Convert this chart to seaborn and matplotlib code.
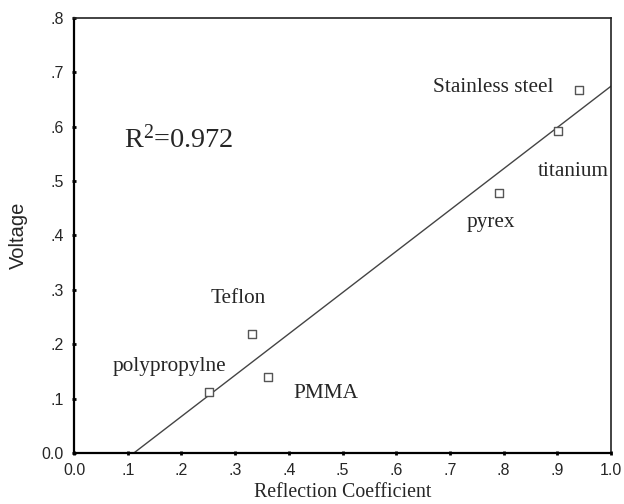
import numpy as np
import pandas as pd
import matplotlib
matplotlib.use("Agg")
import matplotlib.pyplot as plt
from matplotlib.ticker import FuncFormatter
import seaborn as sns

# values
materials = ["polypropylne", "Teflon", "PMMA", "pyrex", "titanium", "Stainless steel"]
reflection = [0.251, 0.331, 0.362, 0.791, 0.901, 0.941]
voltage = [0.112, 0.218, 0.139, 0.479, 0.592, 0.668]

# label anchors (left edge, baseline) in data units
label_x = [0.071, 0.255, 0.408, 0.732, 0.864, 0.669]
label_y = [0.151, 0.276, 0.101, 0.416, 0.509, 0.664]
r2_text = r"R$^{2}$=0.972"

df = pd.DataFrame({"Reflection Coefficient": reflection, "Voltage": voltage, "material": materials})

sns.set_style("ticks")
plt.rcParams["font.family"] = ["Liberation Sans", "DejaVu Sans"]
plt.rcParams["mathtext.fontset"] = "custom"
plt.rcParams["mathtext.rm"] = "Liberation Serif"
plt.rcParams["mathtext.it"] = "Liberation Serif"
plt.rcParams["mathtext.default"] = "rm"

fig = plt.figure(figsize=(6.24, 5.04), dpi=100)
ax = fig.add_axes([0.1186, 0.1012, 0.8606, 0.8631])
ax.set_xlim(0, 1.0)
ax.set_ylim(0, 0.8)

sns.regplot(data=df, x="Reflection Coefficient", y="Voltage", ax=ax, scatter=False,
            ci=None, truncate=False, line_kws={"color": "#444444", "lw": 1.0})
sns.scatterplot(data=df, x="Reflection Coefficient", y="Voltage", ax=ax, marker="s",
                s=26, facecolor="white", edgecolor="#555555", linewidth=1.0, zorder=3)

ax.set_xlim(0, 1.0)
ax.set_ylim(0, 0.8)

serif = ["Liberation Serif", "DejaVu Serif"]
for name, lx, ly in zip(materials, label_x, label_y):
    ax.text(lx, ly, name, fontsize=15.3, family=serif, ha="left", va="baseline")
ax.text(0.093, 0.561, r2_text, fontsize=20.3, family=serif, ha="left", va="baseline")

def fmt(v, pos):
    if abs(v) < 1e-9:
        return "0.0"
    if abs(v - 1.0) < 1e-9:
        return "1.0"
    return f"{v:.1f}".lstrip("0")

ax.set_xticks(np.arange(0, 1.01, 0.1))
ax.set_yticks(np.arange(0, 0.81, 0.1))
ax.xaxis.set_major_formatter(FuncFormatter(fmt))
ax.yaxis.set_major_formatter(FuncFormatter(fmt))
ax.tick_params(axis="both", direction="inout", length=3, width=2, labelsize=11.5,
               color="black", pad=6)

ax.set_xlabel("Reflection Coefficient", fontsize=14.3, family=serif, labelpad=3)
ax.set_ylabel("Voltage", fontsize=14.5, labelpad=10)

for side in ["left", "bottom"]:
    ax.spines[side].set_linewidth(1.6)
    ax.spines[side].set_color("black")
for side in ["top", "right"]:
    ax.spines[side].set_visible(True)
    ax.spines[side].set_linewidth(1.2)
    ax.spines[side].set_color("#222222")

fig.savefig("out.png", dpi=100)
